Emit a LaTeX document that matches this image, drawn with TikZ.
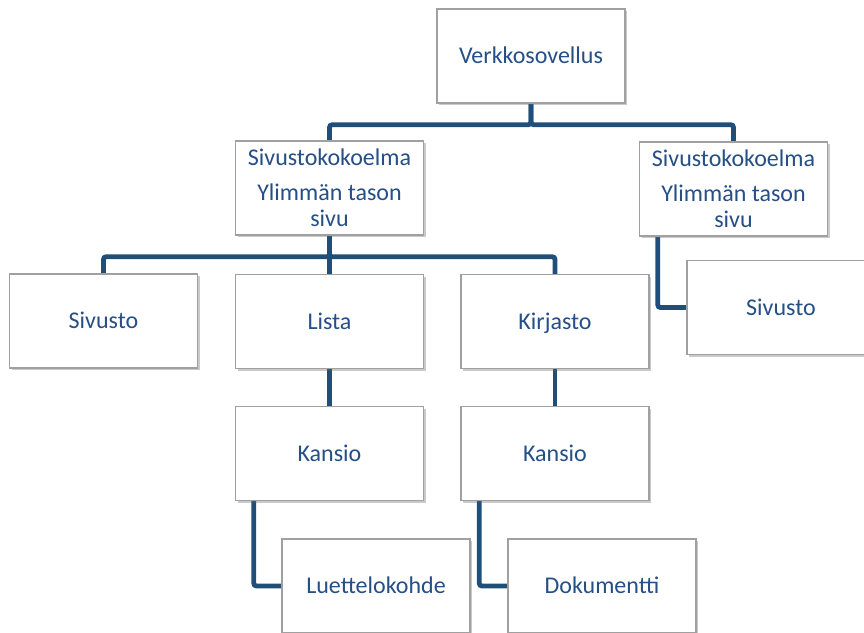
\documentclass[tikz,border=0pt]{standalone}
\usepackage{fontspec}
\setmainfont{Carlito}
\usetikzlibrary{shadows,backgrounds}
\definecolor{txtblue}{RGB}{37,79,133}
\definecolor{lineblue}{RGB}{31,78,121}
\definecolor{boxgray}{RGB}{160,160,160}
\begin{document}
\begin{tikzpicture}[x=0.75pt,y=-0.75pt,
  box/.style={draw=boxgray,line width=1.1pt,fill=white,minimum width=141pt,minimum height=70.5pt,
    inner sep=0pt,align=center,text=txtblue,font=\fontsize{18}{19.5}\selectfont,
    drop shadow={shadow xshift=1.6pt,shadow yshift=-1.6pt,opacity=0.35,fill=black!60}},
  one/.style={box,text height=12pt,text depth=0.4pt},
  conn/.style={draw=lineblue,line width=3.6pt,rounded corners=2pt}]
\useasboundingbox (0,0) rectangle (864,632);
\node[one] (root) at (531,56) {Verkkosovellus};
\node[box] (s1) at (329.5,188) {Sivustokokoelma\\[6.5pt]Ylimmän tason\\sivu};
\node[box] (s2) at (733.5,189) {Sivustokokoelma\\[6.5pt]Ylimmän tason\\sivu};
\node[one] (sv1) at (103.5,321) {Sivusto};
\node[one] (lista) at (329.5,321.5) {Lista};
\node[one] (kirj) at (555,321.5) {Kirjasto};
\node[one] (sv2) at (781,307.5) {Sivusto};
\node[one] (kans1) at (329.5,453.5) {Kansio};
\node[one] (kans2) at (555,453.5) {Kansio};
\node[one] (lu) at (376,586) {Luettelokohde};
\node[one] (dok) at (602,586) {Dokumentti};
\begin{scope}[on background layer]
\draw[conn] (root.south) -- ++(0,21) -| (s1.north);
\draw[conn] (root.south) -- ++(0,21) -| (s2.north);
\draw[conn] (s1.south) -- ++(0,21) -| (sv1.north);
\draw[conn] (s1.south) -- (lista.north);
\draw[conn] (s1.south) -- ++(0,21) -| (kirj.north);
\draw[conn] (lista.south) -- (kans1.north);
\draw[conn] (kirj.south) -- (kans2.north);
\draw[conn] ([xshift=14.25pt]s2.south west) |- (sv2.west);
\draw[conn] ([xshift=14.25pt]kans1.south west) |- (lu.west);
\draw[conn] ([xshift=14.25pt]kans2.south west) |- (dok.west);
\end{scope}
\end{tikzpicture}
\end{document}
